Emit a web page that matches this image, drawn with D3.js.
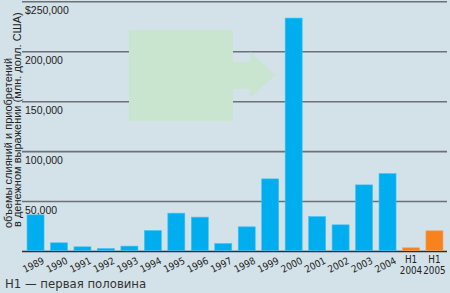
<!DOCTYPE html>
<html>
<head>
<meta charset="utf-8">
<script src="https://cdn.jsdelivr.net/npm/d3@7"></script>
<style>
	body { margin: 0; background: #d3e1e8; }
	svg { display: block; }
	.tick-label { font-family: 'Liberation Sans Narrow', 'Arial Narrow', Arial, sans-serif; font-size: 10.5px; fill: #222; }
	.x-label { font-family: 'DejaVu Sans Condensed', 'DejaVu Sans', sans-serif; font-size: 9.8px; fill: #222; }
	.y-title { font-family: 'Liberation Sans Narrow', Arial, sans-serif; font-size: 11px; fill: #222; }
	.note { font-family: 'DejaVu Sans Condensed', 'DejaVu Sans', sans-serif; font-size: 13px; fill: #333; }
</style>
</head>
<body>
<div id="chart"></div>
<script>
// years, values in mln USD
var years = ['1989','1990','1991','1992','1993','1994','1995','1996','1997','1998','1999','2000','2001','2002','2003','2004','H1 2004','H1 2005']
var values = [36700, 8700, 4700, 3000, 5400, 21000, 38400, 34400, 8000, 24700, 72700, 233700, 35000, 26700, 66700, 78000, 3700, 20700]
var halfYear = [false, false, false, false, false, false, false, false, false, false, false, false, false, false, false, false, true, true]
var yTicks = [50000, 100000, 150000, 200000, 250000]
var yTickLabels = ['50,000', '100,000', '150,000', '200,000', '$250,000']
var yTitle = ['объемы слияний и приобретений', 'в денежном выражении (млн. долл. США)']
var note = 'H1 — первая половина'

var width = 450
var height = 293

var svg = d3.select('#chart').append('svg')
	.attr('width', width)
	.attr('height', height)

svg.append('rect')
	.attr('width', width)
	.attr('height', height)
	.attr('fill', '#d3e1e8')

var xScale = d3.scaleBand()
	.domain(years)
	.range([23.8, 446.2])
	.paddingInner(0.276)
	.paddingOuter(0.138)

var yScale = d3.scaleLinear()
	.domain([0, 250000])
	.range([251.5, 1.8])

// gridlines
svg.append('g').selectAll('line')
	.data(yTicks)
	.enter().append('line')
	.attr('x1', 22)
	.attr('x2', 447)
	.attr('y1', function(d) { return yScale(d) })
	.attr('y2', function(d) { return yScale(d) })
	.attr('stroke', '#6b7174')
	.attr('stroke-width', 1.6)

svg.append('g').selectAll('text')
	.data(yTicks)
	.enter().append('text')
	.attr('class', 'tick-label')
	.attr('x', 25)
	.attr('y', function(d) { return yScale(d) + 12 })
	.text(function(d, i) { return yTickLabels[i] })

// decorative green arrow
svg.append('rect')
	.attr('x', 129)
	.attr('y', 30)
	.attr('width', 104)
	.attr('height', 91)
	.attr('fill', '#c9e5d0')

svg.append('path')
	.attr('d', 'M233,62 L250,62 L250,52 L275,75 L250,98 L250,89 L233,89 Z')
	.attr('fill', '#c9e5d0')

// baseline
svg.append('line')
	.attr('x1', 22)
	.attr('x2', 447)
	.attr('y1', yScale(0))
	.attr('y2', yScale(0))
	.attr('stroke', '#2b2f31')
	.attr('stroke-width', 1.6)

svg.append('g').selectAll('rect')
	.data(values)
	.enter().append('rect')
	.attr('x', function(d, i) { return xScale(years[i]) })
	.attr('y', function(d) { return yScale(d) })
	.attr('width', xScale.bandwidth())
	.attr('height', function(d) { return yScale(0) - yScale(d) - 0.8 })
	.attr('fill', function(d, i) { return halfYear[i] ? '#f7821e' : '#00aeef' })
	.attr('stroke', function(d, i) { return halfYear[i] ? '#f9a04f' : '#3cc3f3' })
	.attr('stroke-width', 0.6)

// x labels
var xl = svg.append('g')
years.forEach(function(y, i) {
	var cx = xScale(y) + xScale.bandwidth() / 2
	if (halfYear[i]) {
		var parts = y.split(' ')
		xl.append('text')
			.attr('class', 'x-label')
			.attr('text-anchor', 'middle')
			.attr('x', cx)
			.attr('y', 262.5)
			.text(parts[0])
		xl.append('text')
			.attr('class', 'x-label')
			.attr('text-anchor', 'middle')
			.attr('x', cx)
			.attr('y', 273.5)
			.text(parts[1])
	} else {
		xl.append('text')
			.attr('class', 'x-label')
			.attr('text-anchor', 'middle')
			.attr('transform', 'translate(' + (cx - 0.5) + ',268) rotate(-27)')
			.text(y)
	}
})

// y title
svg.append('text')
	.attr('class', 'y-title')
	.attr('transform', 'translate(12,228) rotate(-90)')
	.text(yTitle[0])
svg.append('text')
	.attr('class', 'y-title')
	.attr('transform', 'translate(21,227) rotate(-90)')
	.text(yTitle[1])

svg.append('text')
	.attr('class', 'note')
	.attr('x', 5)
	.attr('y', 288)
	.text(note)
</script>
</body>
</html>
